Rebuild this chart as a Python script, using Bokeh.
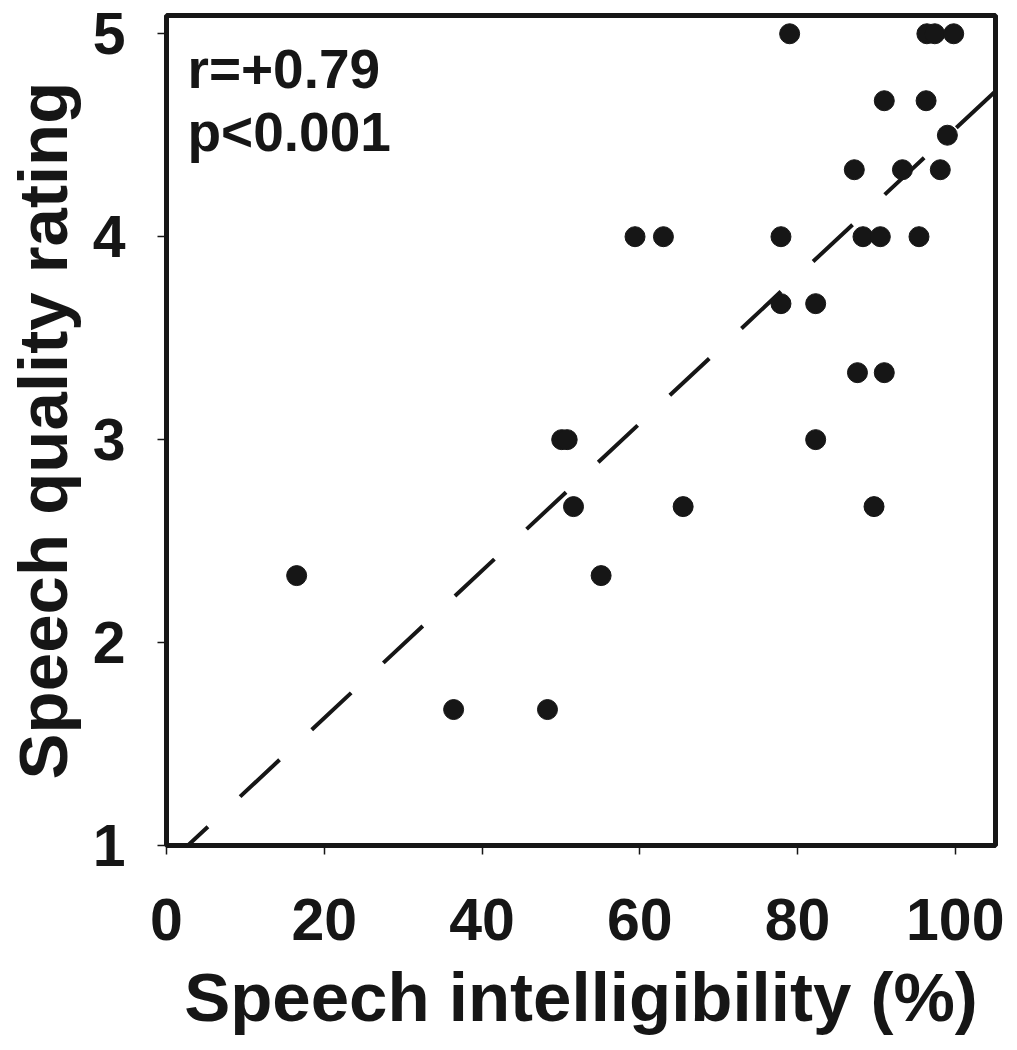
import numpy as np
from bokeh.plotting import figure
from bokeh.models import Range1d, Label
from bokeh.embed import file_html
from bokeh.resources import INLINE

# ---- data ----
intelligibility = [16.5, 36.4, 48.3, 50.1, 50.8, 51.6, 55.1, 59.4, 63.0, 65.5,
                   77.9, 77.9, 82.3, 82.3, 79.0, 87.2, 87.6, 88.3, 90.5, 91.0,
                   89.7, 91.0, 93.3, 95.4, 96.3, 99.0, 98.1, 96.4, 97.4, 99.8]
quality = [2.33, 1.67, 1.67, 3.0, 3.0, 2.67, 2.33, 4.0, 4.0, 2.67,
           4.0, 3.67, 3.67, 3.0, 5.0, 4.33, 3.33, 4.0, 4.0, 3.33,
           2.67, 4.67, 4.33, 4.0, 4.67, 4.5, 4.33, 5.0, 5.0, 5.0]
fit_slope = 0.0363
fit_intercept = 0.902
fit_x = [0.25, 105.1]
x_ticks = [0, 20, 40, 60, 80, 100]
y_ticks = [1, 2, 3, 4, 5]
stats_text = ["r=+0.79", "p<0.001"]
x_label = "Speech intelligibility (%)"
y_label = "Speech quality rating"

FONT = "Liberation Sans"
INK = "#161616"

p = figure(width=1017, height=1050,
           x_range=Range1d(0, 105.1), y_range=Range1d(1, 5.09),
           output_backend="svg", toolbar_location=None,
           min_border_left=166, min_border_right=22,
           min_border_top=15, min_border_bottom=205)

p.grid.visible = False
p.outline_line_width = 5
p.outline_line_color = INK
p.background_fill_color = "white"
p.border_fill_color = "white"

fit_y = [fit_intercept + fit_slope * xv for xv in fit_x]
p.line(fit_x, fit_y, line_color=INK, line_width=4, line_dash="54 44")

p.scatter(intelligibility, quality, size=20, fill_color=INK, line_color=INK)

p.add_layout(Label(x=2.66, y=4.827, text=stats_text[0], text_font=FONT,
                   text_font_style="bold", text_font_size="55px",
                   text_color=INK, text_baseline="alphabetic"))
p.add_layout(Label(x=2.66, y=4.517, text=stats_text[1], text_font=FONT,
                   text_font_style="bold", text_font_size="55px",
                   text_color=INK, text_baseline="alphabetic"))

for ax in (p.xaxis[0], p.yaxis[0]):
    ax.axis_line_color = None
    ax.major_tick_in = 0
    ax.major_tick_out = 9
    ax.major_tick_line_width = 1.5
    ax.major_tick_line_color = INK
    ax.minor_tick_line_color = None
    ax.major_label_text_font = FONT
    ax.major_label_text_font_style = "bold"
    ax.major_label_text_font_size = "59px"
    ax.major_label_text_color = INK
    ax.axis_label_text_font = FONT
    ax.axis_label_text_font_style = "bold"
    ax.axis_label_text_font_size = "69px"
    ax.axis_label_text_color = INK

p.xaxis.ticker = x_ticks
p.yaxis.ticker = y_ticks
p.xaxis.axis_label = x_label
p.yaxis.axis_label = y_label
p.xaxis.major_label_standoff = 44
p.xaxis.axis_label_standoff = 16
p.yaxis.major_label_standoff = 32
p.yaxis.axis_label_standoff = 8

open("out.html", "w").write(file_html(p, INLINE))
